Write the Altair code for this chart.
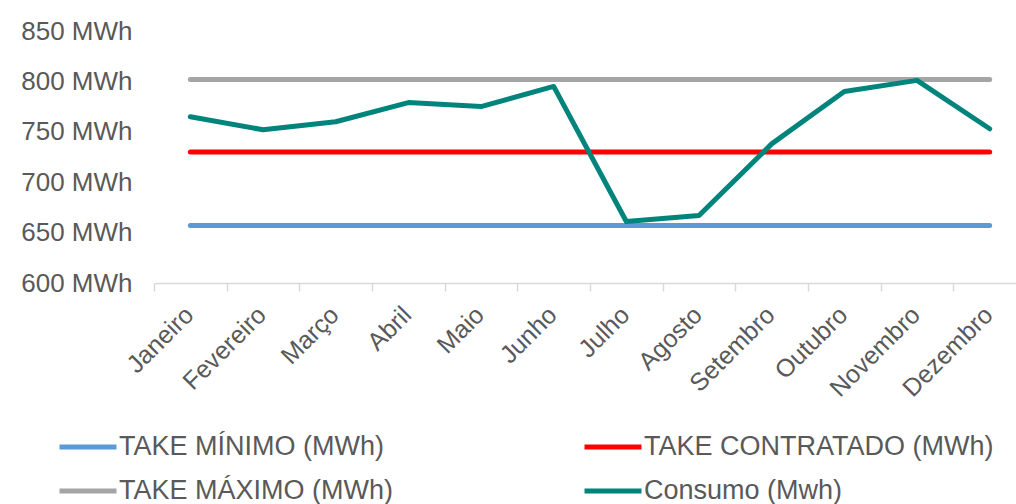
import altair as alt
import pandas as pd

months = ["Janeiro", "Fevereiro", "Março", "Abril", "Maio", "Junho",
          "Julho", "Agosto", "Setembro", "Outubro", "Novembro", "Dezembro"]
take_minimo = [657, 657, 657, 657, 657, 657, 657, 657, 657, 657, 657, 657]
take_contratado = [730, 730, 730, 730, 730, 730, 730, 730, 730, 730, 730, 730]
take_maximo = [802, 802, 802, 802, 802, 802, 802, 802, 802, 802, 802, 802]
consumo = [765, 752, 760, 779, 775, 795, 661, 667, 738, 790, 801, 753]

series_names = ["TAKE MÍNIMO (MWh)", "TAKE CONTRATADO (MWh)",
                "TAKE MÁXIMO (MWh)", "Consumo (Mwh)"]
series_colors = ["#5B9BD5", "#FF0000", "#A5A5A5", "#00847C"]
y_ticks = [600, 650, 700, 750, 800, 850]

rows = []
for name, vals in zip(series_names, [take_minimo, take_contratado, take_maximo, consumo]):
    for m, v in zip(months, vals):
        rows.append({"mes": m, "valor": v, "serie": name})
df = pd.DataFrame(rows)

font = "Liberation Sans"

chart = alt.Chart(df).mark_line(strokeWidth=5, strokeCap="round", strokeJoin="round").encode(
    x=alt.X("mes:N", sort=months, title=None,
            scale=alt.Scale(range=[0, 872], paddingInner=0, paddingOuter=0),
            axis=alt.Axis(labelAngle=-45, labelFont=font, labelFontSize=25,
                          labelColor="#595959", domainColor="#D9D9D9", domainWidth=1.5,
                          tickColor="#D9D9D9", tickWidth=1.5, tickSize=8,
                          tickBand="extent", labelPadding=11, labelOffset=-10, grid=False)),
    y=alt.Y("valor:Q", title=None,
            scale=alt.Scale(domain=[600, 850], zero=False, nice=False),
            axis=alt.Axis(values=y_ticks, labelExpr="datum.value + ' MWh'",
                          labelFont=font, labelFontSize=26, labelColor="#595959",
                          domain=False, ticks=False, grid=False, labelPadding=22)),
    color=alt.Color("serie:N", sort=series_names,
                    scale=alt.Scale(domain=series_names, range=series_colors),
                    legend=alt.Legend(title=None, orient="none", legendX=-97, legendY=385,
                                      direction="horizontal",
                                      columns=2, columnPadding=181, rowPadding=-18,
                                      symbolType="stroke", symbolSize=3249,
                                      symbolStrokeWidth=5, labelOffset=0,
                                      labelFont=font, labelFontSize=27,
                                      labelColor="#595959", labelLimit=500)),
).properties(
    width=862, height=252,
    autosize=alt.AutoSizeParams(type="none"),
    padding={"left": 154, "top": 31, "right": 0, "bottom": 221},
).configure_view(stroke=None)

chart.save("out.html", embed_options={"renderer": "svg", "actions": False})
